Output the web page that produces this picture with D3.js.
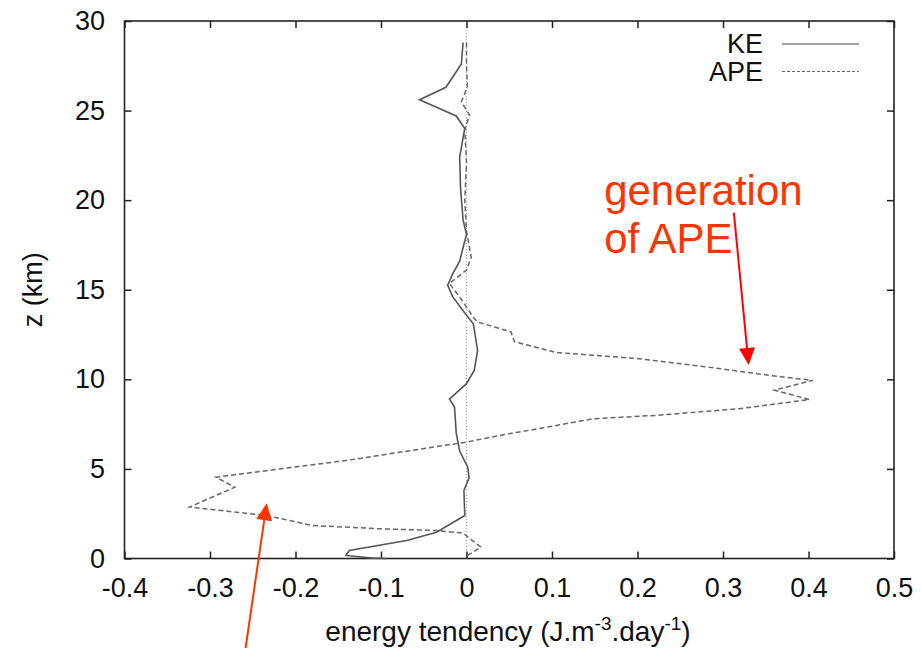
<!DOCTYPE html>
<html><head><meta charset="utf-8">
<script src="https://cdn.jsdelivr.net/npm/d3@7"></script>
<style>body{margin:0;background:#fff}svg{display:block}text{font-family:"Liberation Sans",Arial,sans-serif}</style>
</head><body><svg id="c" width="922" height="648"></svg>
<script>
// KE profile: [energy tendency, z km]
const keData = [[-0.004,28.8],[-0.006,27.6],[-0.024,26.3],[-0.055,25.6],[-0.012,24.7],[-0.002,24.0],[-0.008,22.4],[-0.007,20.7],[-0.004,18.9],[0,18.1],[-0.008,16.6],[-0.016,15.9],[-0.022,15.25],[-0.016,14.6],[-0.002,13.7],[0.008,13.1],[0.013,11.6],[0.009,10.5],[0,9.76],[-0.020,8.9],[-0.014,8.45],[-0.012,7.0],[-0.008,6.0],[0.0015,5.1],[0.003,4.5],[-0.003,3.8],[-0.002,2.4],[-0.035,1.47],[-0.07,1.0],[-0.137,0.45],[-0.141,0.17],[-0.11,0.02],[-0.094,0.0]];
// APE profile
const apeData = [[0,28.8],[0,27.5],[0.001,26.3],[-0.006,25.5],[0.0035,24.75],[-0.002,23.9],[0,22.1],[-0.002,20],[0,18.3],[0.0055,16.8],[0,16.1],[-0.02,15.35],[-0.008,14.6],[0.009,13.4],[0.013,13.2],[0.052,12.65],[0.056,12.1],[0.105,11.5],[0.202,11.15],[0.28,10.7],[0.358,10.2],[0.405,9.94],[0.36,9.4],[0.401,8.87],[0.319,8.36],[0.222,7.99],[0.148,7.8],[0.085,7.25],[0.05,6.97],[0,6.5],[-0.141,5.47],[-0.293,4.54],[-0.271,3.98],[-0.324,2.87],[-0.234,2.4],[-0.18,1.84],[-0.102,1.66],[-0.035,1.56],[-0.004,1.41],[0.017,0.63],[0.001,0.17]];
const xTicks = [-0.4,-0.3,-0.2,-0.1,0,0.1,0.2,0.3,0.4,0.5];
const xTickLabels = ["-0.4","-0.3","-0.2","-0.1","0","0.1","0.2","0.3","0.4","0.5"];
const yTicks = [0,5,10,15,20,25,30];
const seriesNames = ["KE","APE"];
// annotations in data coords
const annoText = ["generation","of APE"];
const annoTextPos = [[0.161,19.75],[0.161,17.07]];
const arrows = [[[0.3127,19.3],[0.330,10.8],"#ff0000"],[[-0.259,-5.2],[-0.2337,3.08],"#ff3300"]];

const svg = d3.select("#c");
const L=124.5, R=894, T=21, B=558.5;
const x = d3.scaleLinear().domain([-0.4,0.5]).range([L,R]);
const y = d3.scaleLinear().domain([0,30]).range([B,T]);
const tl = 7;

// zero line
svg.append("line").attr("x1",x(0)).attr("x2",x(0)).attr("y1",T).attr("y2",B)
  .attr("stroke","#aaa").attr("stroke-width",1).attr("stroke-dasharray","1,2");

// axes
const fs = "27px";
const ax = svg.append("g").attr("transform",`translate(0,${B})`)
  .call(d3.axisBottom(x).tickValues(xTicks).tickSizeInner(-tl).tickSizeOuter(0).tickFormat((d,i)=>xTickLabels[i]));
const axT = svg.append("g").attr("transform",`translate(0,${T})`)
  .call(d3.axisTop(x).tickValues(xTicks).tickSizeInner(-tl).tickSizeOuter(0).tickFormat(""));
const ay = svg.append("g").attr("transform",`translate(${L},0)`)
  .call(d3.axisLeft(y).tickValues(yTicks).tickSizeInner(-tl).tickSizeOuter(0).tickPadding(19.5));
const ayR = svg.append("g").attr("transform",`translate(${R},0)`)
  .call(d3.axisRight(y).tickValues(yTicks).tickSizeInner(-tl).tickSizeOuter(0).tickFormat(""));
[ax,axT,ay,ayR].forEach(g=>{
  g.select(".domain").remove();
  g.selectAll(".tick line").attr("stroke","#222").attr("stroke-width",1.5);
  g.selectAll("text").attr("font-size",fs).attr("fill","#111").attr("font-family","'Liberation Sans',Arial,sans-serif");
});
ax.selectAll("text").attr("dy","0.35em").attr("y",29.5);
svg.append("rect").attr("x",L).attr("y",T).attr("width",R-L).attr("height",B-T)
  .attr("fill","none").attr("stroke","#222").attr("stroke-width",1.6);

// axis titles
svg.append("text").attr("x",(323+693)/2).attr("y",641).attr("text-anchor","middle").attr("font-size","28px").attr("fill","#111")
  .html('energy tendency (J.m<tspan dy="-11" font-size="19px">-3</tspan><tspan dy="11">.day</tspan><tspan dy="-11" font-size="19px">-1</tspan><tspan dy="11">)</tspan>');
svg.append("text").attr("transform",`translate(42,${(T+B)/2}) rotate(-90)`).attr("text-anchor","middle")
  .attr("font-size","27px").attr("fill","#111").text("z (km)");

// lines
const line = d3.line().x(d=>x(d[0])).y(d=>y(d[1]));
svg.append("path").datum(keData).attr("d",line).attr("fill","none").attr("stroke","#555").attr("stroke-width",1.6);
svg.append("path").datum(apeData).attr("d",line).attr("fill","none").attr("stroke","#666").attr("stroke-width",1.5).attr("stroke-dasharray","5,3");

// legend
const lg = svg.append("g");
seriesNames.forEach((n,i)=>{
  const yy = 44 + i*27.5;
  lg.append("text").attr("x",763).attr("y",yy).attr("dy","0.35em").attr("text-anchor","end").attr("font-size","27px").attr("fill","#111").text(n);
  lg.append("line").attr("x1",782).attr("x2",859).attr("y1",yy).attr("y2",yy)
    .attr("stroke",i===0?"#444":"#666").attr("stroke-width",1.2).attr("stroke-dasharray",i===0?null:"3,2");
});

// annotations
annoText.forEach((t,i)=>{
  svg.append("text").attr("x",x(annoTextPos[i][0])).attr("y",y(annoTextPos[i][1]))
    .attr("font-size","42px").attr("fill","#ff3300").text(t);
});
arrows.forEach(a=>{
  const x1=x(a[0][0]), y1=y(a[0][1]), x2=x(a[1][0]), y2=y(a[1][1]);
  const ang=Math.atan2(y2-y1,x2-x1), hl=17, hw=8;
  const bx=x2-hl*Math.cos(ang), by=y2-hl*Math.sin(ang);
  svg.append("line").attr("x1",x1).attr("y1",y1).attr("x2",bx).attr("y2",by).attr("stroke",a[2]).attr("stroke-width",2);
  const px=-Math.sin(ang), py=Math.cos(ang);
  svg.append("polygon").attr("points",[[x2,y2],[bx+hw*px,by+hw*py],[bx-hw*px,by-hw*py]].map(p=>p.join(",")).join(" ")).attr("fill",a[2]);
});
</script></body></html>
